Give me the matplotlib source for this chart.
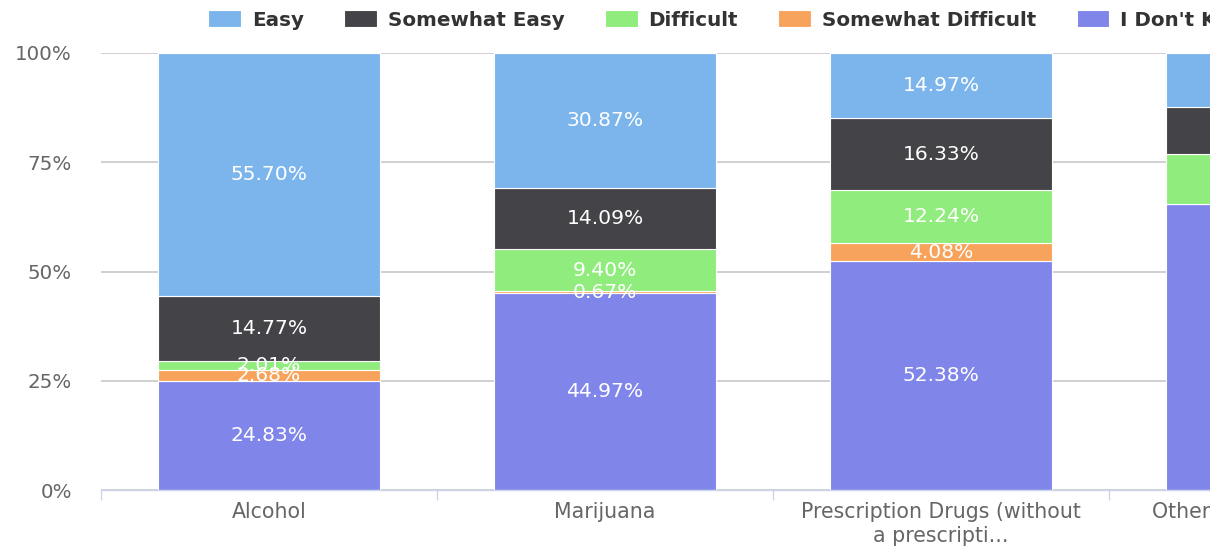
import matplotlib.pyplot as plt
import numpy as np

# datos
categorias = ['Alcohol', 'Marijuana', 'Prescription Drugs (without\na prescripti...',
              'Other Illegal Substances\nspecify)']
easy = [55.70, 30.87, 14.97, 12.36]
somewhat_easy = [14.77, 14.09, 16.33, 10.76]
difficult = [2.01, 9.40, 12.24, 11.44]
somewhat_difficult = [2.68, 0.67, 4.08, 0.0]
dont_know = [24.83, 44.97, 52.38, 65.44]

# orden de apilado de abajo hacia arriba
series = [
    ("I Don't Know", dont_know, '#8085e9'),
    ('Somewhat Difficult', somewhat_difficult, '#f7a35c'),
    ('Difficult', difficult, '#90ed7d'),
    ('Somewhat Easy', somewhat_easy, '#434348'),
    ('Easy', easy, '#7cb5ec'),
]

plt.rcParams['font.family'] = ['DejaVu Sans']
fig = plt.figure(figsize=(12.1, 5.48), dpi=100)
# el eje sigue mas alla del borde derecho (grafico recortado)
ax = fig.add_axes([101/1210, 58/548, 1344/1210, 437/548])

x = np.arange(len(categorias))
base = np.zeros(len(categorias))
barras = {}
for nombre, vals, color in series:
    vals = np.array(vals)
    b = ax.bar(x, vals, 0.658, bottom=base, color=color, edgecolor='white',
               linewidth=0.8, label=nombre, zorder=2)
    barras[nombre] = b
    for xi, v, b0 in zip(x, vals, base):
        if v > 0:
            ax.text(xi, b0 + v/2, f'{v:.2f}%', ha='center', va='center',
                    color='white', fontsize=14.6, zorder=3)
    base = base + vals

ax.set_xlim(-0.5, 3.5)
ax.set_ylim(0, 100)
ax.set_yticks([0, 25, 50, 75, 100])
ax.set_yticklabels(['0%', '25%', '50%', '75%', '100%'])
ax.tick_params(axis='y', length=0, pad=21, labelsize=14.3, labelcolor='#666666')
ax.yaxis.grid(True, color='#d0d0d0', linewidth=1.4, zorder=0)
ax.set_axisbelow(True)

ax.set_xticks(x)
ax.set_xticklabels(categorias)
ax.tick_params(axis='x', length=0, pad=9, labelsize=14.8, labelcolor='#666666')
ax.set_xticks(np.arange(-0.5, 4.0, 1.0), minor=True)
ax.tick_params(axis='x', which='minor', length=7.5, width=1, color='#ccd6eb')

for s in ['top', 'right', 'left']:
    ax.spines[s].set_visible(False)
ax.spines['bottom'].set_color('#ccd6eb')
ax.spines['bottom'].set_linewidth(1)
ax.spines['bottom'].set_zorder(4)

# leyenda
orden = ['Easy', 'Somewhat Easy', 'Difficult', 'Somewhat Difficult', "I Don't Know"]
fig.legend([barras[n] for n in orden], orden, loc='center left',
           bbox_to_anchor=(208/1210, 1 - 20/548), ncol=5, frameon=False,
           borderpad=0, borderaxespad=0, handlelength=1.65, handleheight=0.9,
           handletextpad=0.55, columnspacing=2.03,
           prop={'weight': 'bold', 'size': 14.3}, labelcolor='#333333')

fig.savefig('out.png', dpi=100, facecolor='white')
